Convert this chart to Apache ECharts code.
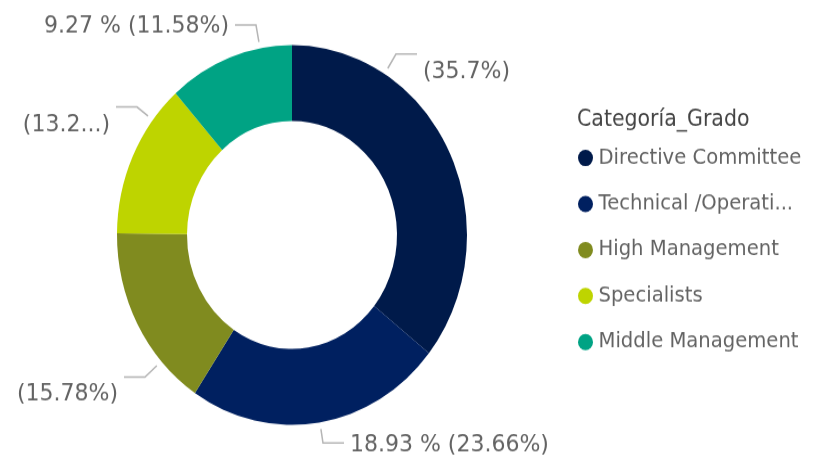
<!DOCTYPE html>
<html>
<head>
<meta charset="utf-8">
<script src="https://cdn.jsdelivr.net/npm/echarts@6/dist/echarts.min.js"></script>
<style>
  html, body { margin: 0; padding: 0; background: #ffffff; overflow: hidden; }
  #wrap { width: 827px; height: 461px; overflow: hidden; }
  #chart { width: 827px; height: 425px; transform: scaleY(1.085); transform-origin: 0 0; }
</style>
</head>
<body>
<div id="wrap"><div id="chart"></div></div>
<script>
// ---- data ----
const legendTitle = 'Categoría_Grado';
const categories = ['Directive Committee', 'Technical /Operational', 'High Management', 'Specialists', 'Middle Management'];
const values = [28.571, 18.934, 12.629, 10.626, 9.27];
const colors = ['#001A4A', '#002060', '#808B1F', '#BED400', '#00A384'];
// label content style per slice: 'pct' = (pct%), 'full' = value % (pct%), 'cut' = truncated pct
const labelKinds = ['pct', 'full', 'pct', 'cut', 'full'];

// ---- chart ----
const total = values.reduce((a, b) => a + b, 0);
function pctText(v) { return String(parseFloat((v / total * 100).toFixed(2))); }

const FONT = 'DejaVu Sans';
const TXT = '#636363';
const CX = 292, CY = 216.6, R_IN = 105, R_OUT = 175;

// label placement (chart-internal layout, unscaled pixels)
// x: text edge, textY: text centre, lineY: height of the leader's horizontal run
const labelSpots = [
  { x: 423, textY: 66.4, lineY: 49.8, align: 'left' },
  { x: 350, textY: 410, lineY: 408.3, align: 'left' },
  { x: 118, textY: 363, lineY: 347.5, align: 'right' },
  { x: 110, textY: 115.2, lineY: 98.6, align: 'right' },
  { x: 229, textY: 24, lineY: 23, align: 'right' }
];

const data = categories.map((name, i) => ({
  name: name,
  value: values[i],
  itemStyle: { color: colors[i] }
}));

const chart = echarts.init(document.getElementById('chart'), null, { renderer: 'canvas' });
chart.setOption({
  backgroundColor: '#ffffff',
  animation: false,
  title: {
    text: legendTitle,
    left: 577,
    top: 101,
    padding: 0,
    textStyle: { fontFamily: FONT, fontSize: 20.5, fontWeight: 'normal', color: '#444444', lineHeight: 20 }
  },
  legend: {
    orient: 'vertical',
    left: 578,
    top: 135.6,
    padding: 0,
    itemGap: 22.4,
    itemWidth: 16,
    itemHeight: 15,
    icon: 'circle',
    selectedMode: false,
    data: categories.map((c, i) => (i === 1
      ? { name: c, textStyle: { width: 200 } }
      : { name: c })),
    textStyle: {
      fontFamily: FONT, fontSize: 19.6, color: TXT, lineHeight: 20,
      width: 220, overflow: 'truncate', ellipsis: '...'
    }
  },
  series: [{
    type: 'pie',
    center: [CX, CY],
    radius: [R_IN, R_OUT],
    startAngle: 90,
    clockwise: true,
    avoidLabelOverlap: false,
    itemStyle: { borderWidth: 0 },
    emphasis: { disabled: true },
    label: {
      show: true,
      position: 'outside',
      fontFamily: FONT,
      fontSize: 22,
      color: TXT,
      formatter: function (p) {
        const i = p.dataIndex;
        const pt = pctText(values[i]);
        if (labelKinds[i] === 'full') return values[i].toFixed(2) + ' % (' + pt + '%)';
        if (labelKinds[i] === 'cut') return '(' + (pt + '%').slice(0, 4) + '...)';
        return '(' + pt + '%)';
      }
    },
    labelLine: {
      show: true,
      smooth: false,
      lineStyle: { color: '#b5b5b5', width: 1.5 }
    },
    labelLayout: function (params) {
      const s = labelSpots[params.dataIndex];
      const dir = s.align === 'left' ? -1 : 1;
      const p0 = [s.x + dir * 6, s.lineY];
      const p1 = [p0[0] + dir * 21, s.lineY];
      const dx = p1[0] - CX, dy = p1[1] - CY;
      const d = Math.sqrt(dx * dx + dy * dy);
      const rEnd = R_OUT + 6;
      const p2 = [CX + dx / d * rEnd, CY + dy / d * rEnd];
      return {
        x: s.x, y: s.textY, align: s.align, verticalAlign: 'middle',
        labelLinePoints: [p2, p1, p0]
      };
    },
    data: data
  }]
});
</script>
</body>
</html>
